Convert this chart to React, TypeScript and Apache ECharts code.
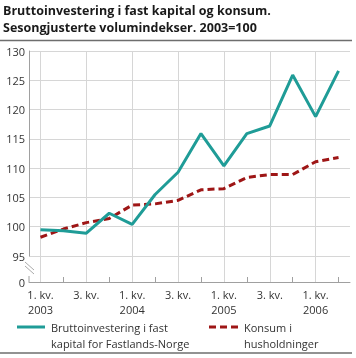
import React, { useEffect, useRef } from "react";
import * as echarts from "echarts";

const quarters = ["1. kv.", "2. kv.", "3. kv.", "4. kv.", "1. kv.", "2. kv.", "3. kv.", "4. kv.", "1. kv.", "2. kv.", "3. kv.", "4. kv.", "1. kv.", "2. kv."];
const years = ["2003", "", "", "", "2004", "", "", "", "2005", "", "", "", "2006", ""];
const seriesNames = ["Bruttoinvestering i fast\nkapital for Fastlands-Norge", "Konsum i\nhusholdninger"];
const investment = [99.5, 99.3, 98.9, 102.3, 100.4, 105.5, 109.3, 115.9, 110.4, 115.9, 117.2, 125.9, 118.8, 126.6];
const consumption = [98.2, 99.6, 100.7, 101.4, 103.7, 103.9, 104.5, 106.3, 106.5, 108.4, 108.9, 108.9, 111.1, 111.8];
const yTicks = { min: 95, max: 130, step: 5, brokenLabel: "0" };
const titleText = "Bruttoinvestering i fast kapital og konsum.\nSesongjusterte volumindekser. 2003=100";

const FONT = "Open Sans";
const TEAL = "#1f9c97";
const RED = "#9e1616";
const GRID = "#d6d6d6";
const AXIS = "#a0a0a0";

export default function App() {
  const ref = useRef<HTMLDivElement>(null);
  useEffect(() => {
    if (!ref.current) return;
    const chart = echarts.init(ref.current, undefined, { renderer: "svg" });
    const cats = quarters.map((q, i) => (years[i] ? q + "\n" + years[i] : q));
    const gridLeft = 29, gridTop = 51, gridBottomY = 256, axisY = 282;
    chart.setOption({
      animation: false,
      textStyle: { fontFamily: FONT },
      title: {
        text: titleText,
        left: 3,
        top: 2,
        padding: 0,
        textStyle: { fontFamily: FONT, fontSize: 12.5, fontWeight: "bold", color: "#1a1a1a", lineHeight: 17 },
      },
      grid: { left: gridLeft, right: 6, top: gridTop, bottom: 358 - gridBottomY },
      xAxis: [
        {
          type: "category",
          data: cats,
          boundaryGap: true,
          position: "bottom",
          offset: axisY - gridBottomY,
          axisLine: { show: true, lineStyle: { color: AXIS, width: 1 } },
          axisTick: { show: true, inside: true, length: 5, alignWithLabel: true, interval: 0, lineStyle: { color: AXIS } },
          axisLabel: { interval: 1, margin: 5, fontSize: 11, color: "#333", lineHeight: 15, fontFamily: FONT },
          splitLine: { show: true, alignWithLabel: true, interval: 1, lineStyle: { color: GRID, width: 1 } },
        },
        {
          type: "category",
          data: cats,
          boundaryGap: true,
          position: "bottom",
          offset: axisY - gridBottomY,
          axisLine: { show: false },
          axisTick: { show: true, inside: true, length: axisY - gridBottomY, alignWithLabel: true, interval: 1, lineStyle: { color: GRID } },
          axisLabel: { show: false },
          splitLine: { show: false },
        },
      ],
      yAxis: {
        type: "value",
        min: yTicks.min,
        max: yTicks.max,
        interval: yTicks.step,
        axisLine: { show: true, lineStyle: { color: AXIS, width: 1 } },
        axisTick: { show: false },
        axisLabel: { margin: 4, fontSize: 11, color: "#333", fontFamily: FONT },
        splitLine: { show: true, lineStyle: { color: GRID, width: 1 } },
      },
      series: [
        {
          name: seriesNames[0],
          type: "line",
          data: investment,
          symbol: "none",
          lineStyle: { color: TEAL, width: 3 },
          itemStyle: { color: TEAL },
          z: 3,
        },
        {
          name: seriesNames[1],
          type: "line",
          data: consumption,
          symbol: "none",
          lineStyle: { color: RED, width: 3, type: [7, 4] },
          itemStyle: { color: RED },
          z: 2,
        },
      ],
      graphic: [
        { type: "line", shape: { x1: 0, y1: 40.5, x2: 352, y2: 40.5 }, style: { stroke: "#6e6e6e", lineWidth: 1.5 } },
        { type: "line", shape: { x1: 0, y1: 353, x2: 352, y2: 353 }, style: { stroke: "#6e6e6e", lineWidth: 1.5 } },
        { type: "line", shape: { x1: gridLeft, y1: 276, x2: gridLeft, y2: axisY }, style: { stroke: AXIS, lineWidth: 1 } },
        { type: "line", shape: { x1: 25, y1: 262, x2: 34, y2: 270 }, style: { stroke: "#aaa", lineWidth: 1 } },
        { type: "line", shape: { x1: 25, y1: 266, x2: 34, y2: 274 }, style: { stroke: "#aaa", lineWidth: 1 } },
        { type: "text", x: 25, y: axisY, style: { text: yTicks.brokenLabel, fontSize: 11, fill: "#333", fontFamily: FONT, align: "right", verticalAlign: "middle" } },
        { type: "line", shape: { x1: 17, y1: 327, x2: 45, y2: 327 }, style: { stroke: TEAL, lineWidth: 3 } },
        { type: "text", x: 51, y: 319, style: { text: seriesNames[0], fontSize: 11, lineHeight: 16, fill: "#333", fontFamily: FONT, verticalAlign: "top" } },
        { type: "line", shape: { x1: 209, y1: 327, x2: 240, y2: 327 }, style: { stroke: RED, lineWidth: 3, lineDash: [7, 4] } },
        { type: "text", x: 244, y: 319, style: { text: seriesNames[1], fontSize: 11, lineHeight: 16, fill: "#333", fontFamily: FONT, verticalAlign: "top" } },
      ],
    });
    return () => chart.dispose();
  }, []);
  return <div ref={ref} style={{ position: "fixed", left: 0, top: 0, width: 356, height: 358 }} />;
}
